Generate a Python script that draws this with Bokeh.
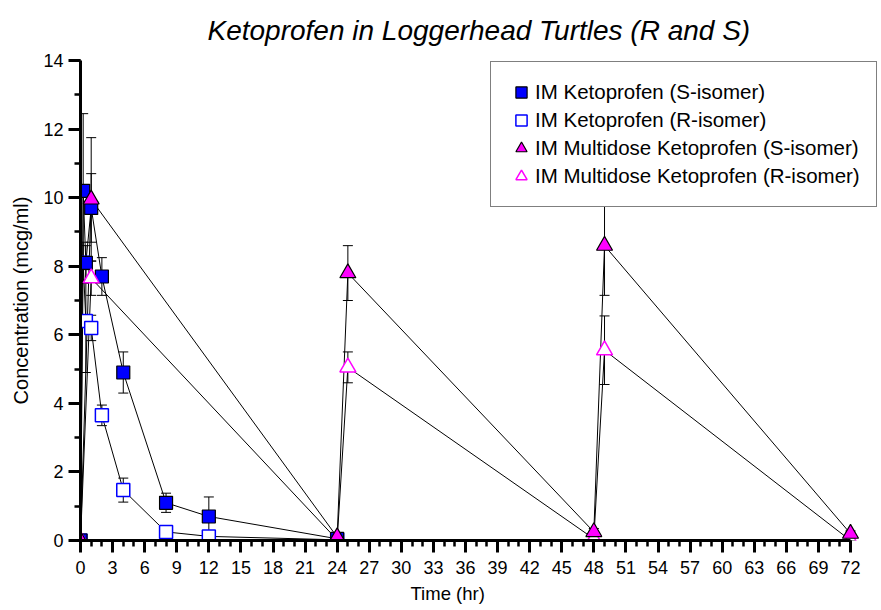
from bokeh.plotting import figure
from bokeh.models import (Range1d, FixedTicker, Whisker, ColumnDataSource, Legend,
                          LegendItem, TeeHead, Title)
from bokeh.embed import file_html
from bokeh.resources import INLINE

# ---- data ----
t_single = [0, 0.25, 0.5, 1, 2, 4, 8, 12, 24]
s_single = [0, 10.2, 8.1, 9.7, 7.7, 4.9, 1.1, 0.7, 0.05]
s_single_err = [0, 2.25, 0.5, 1.0, 0.55, 0.6, 0.28, 0.57, 0.05]
r_single = [0, 8.1, 6.4, 6.2, 3.65, 1.47, 0.25, 0.12, 0.02]
r_single_err = [0, 0.6, 1.5, 0.37, 0.3, 0.35, 0.05, 0.05, 0.02]

t_multi = [0, 1, 24, 25, 48, 49, 72]
s_multi = [0, 9.95, 0.1, 7.8, 0.25, 8.6, 0.2]
s_multi_err = [0, 1.8, 0.05, 0.8, 0.1, 1.45, 0.08]
r_multi = [0, 7.65, 0.02, 5.05, 0.05, 5.55, 0.0]
r_multi_err = [0, 0.5, 0.02, 0.45, 0.03, 1.0, 0.0]

x_major = list(range(0, 73, 3))
x_minor = list(range(0, 73))
y_major = list(range(0, 15, 2))
y_minor = list(range(0, 15))

labels = ["IM Ketoprofen (S-isomer)", "IM Ketoprofen (R-isomer)",
          "IM Multidose Ketoprofen (S-isomer)", "IM Multidose Ketoprofen (R-isomer)"]

FONT = "Liberation Sans"

# frame spans 80..880 px horizontally; axis drawn only over 0..72 hr
X_END = 72 * 800 / 770.0

p = figure(width=881, height=610, output_backend="svg", toolbar_location=None,
           x_range=Range1d(0, X_END), y_range=Range1d(0, 14),
           min_border_left=80, min_border_right=1, min_border_top=60,
           min_border_bottom=70)
p.outline_line_color = None
p.grid.visible = False
p.background_fill_color = "white"
p.border_fill_color = "white"

p.title.text = "Ketoprofen in Loggerhead Turtles (R and S)"
p.title.text_font = FONT
p.title.text_font_style = "italic"
p.title.text_font_size = "28px"
p.title.align = "left"
p.title.vertical_align = "top"
p.title.offset = 127
p.title.standoff = 26
p.title.text_color = "black"

p.xaxis.ticker = FixedTicker(ticks=x_major, minor_ticks=x_minor)
p.yaxis.ticker = FixedTicker(ticks=y_major, minor_ticks=y_minor)
p.xaxis.bounds = (0, 72)
p.yaxis.axis_label = "Concentration (mcg/ml)"
for ax in (p.xaxis, p.yaxis):
    ax.axis_line_width = 3
    ax.axis_line_color = "black"
    ax.major_tick_in = 0
    ax.major_tick_out = 12
    ax.minor_tick_in = 0
    ax.minor_tick_out = 6
    ax.major_tick_line_width = 3
    ax.minor_tick_line_width = 2.5
    ax.major_tick_line_color = "black"
    ax.minor_tick_line_color = "black"
    ax.major_label_text_font = FONT
    ax.major_label_text_font_size = "18px"
    ax.major_label_text_color = "black"
p.yaxis.axis_label_text_font = FONT
p.yaxis.axis_label_text_font_size = "20px"
p.yaxis.axis_label_text_font_style = "normal"
p.yaxis.axis_label_text_color = "black"
p.xaxis.major_label_standoff = 8
p.yaxis.major_label_standoff = 5
p.yaxis.axis_label_standoff = 8

# x axis title, centred under the 0..72 hr span as in the reference
xt = Title(text="Time (hr)", align="left", offset=330, standoff=8,
           text_font=FONT, text_font_size="18.5px", text_font_style="normal",
           text_color="black")
p.add_layout(xt, "below")

# lines
p.line(t_single, r_single, line_color="black", line_width=1)
p.line(t_single, s_single, line_color="black", line_width=1)
p.line(t_multi, r_multi, line_color="black", line_width=1)
p.line(t_multi, s_multi, line_color="black", line_width=1)

# error bars
def add_err(t, v, e):
    src = ColumnDataSource(dict(t=t, lo=[a - b for a, b in zip(v, e)],
                                hi=[a + b for a, b in zip(v, e)]))
    w = Whisker(source=src, base="t", lower="lo", upper="hi",
                line_color="black", line_width=1,
                upper_head=TeeHead(size=10, line_color="black", line_width=1),
                lower_head=TeeHead(size=10, line_color="black", line_width=1))
    p.add_layout(w)

add_err(t_single, s_single, s_single_err)
add_err(t_single, r_single, r_single_err)
add_err(t_multi, s_multi, s_multi_err)
add_err(t_multi, r_multi, r_multi_err)

# markers
r_rs = p.scatter(t_single, r_single, marker="square", size=13, fill_color="white",
                 line_color="#0000FF", line_width=1.5)
r_ss = p.scatter(t_single, s_single, marker="square", size=13, fill_color="#0000FF",
                 line_color="black", line_width=1.2)
r_rm = p.scatter(t_multi, r_multi, marker="triangle", size=16, fill_color="white",
                 line_color="#FF00FF", line_width=1.5)
r_sm = p.scatter(t_multi, s_multi, marker="triangle", size=16, fill_color="#FF00FF",
                 line_color="black", line_width=1.2)

legend = Legend(items=[LegendItem(label=labels[0], renderers=[r_ss]),
                       LegendItem(label=labels[1], renderers=[r_rs]),
                       LegendItem(label=labels[2], renderers=[r_sm]),
                       LegendItem(label=labels[3], renderers=[r_rm])],
                location=(410, 333))
legend.label_text_font = FONT
legend.label_text_font_size = "20.5px"
legend.label_text_color = "black"
legend.label_height = 28
legend.glyph_width = 28
legend.glyph_height = 28
legend.label_standoff = -2
legend.spacing = 0
legend.padding = 16
legend.margin = 0
legend.border_line_color = "black"
legend.border_line_width = 1.5
legend.background_fill_color = "white"
legend.background_fill_alpha = 1
p.add_layout(legend, "center")

open("out.html", "w").write(file_html(p, INLINE))
